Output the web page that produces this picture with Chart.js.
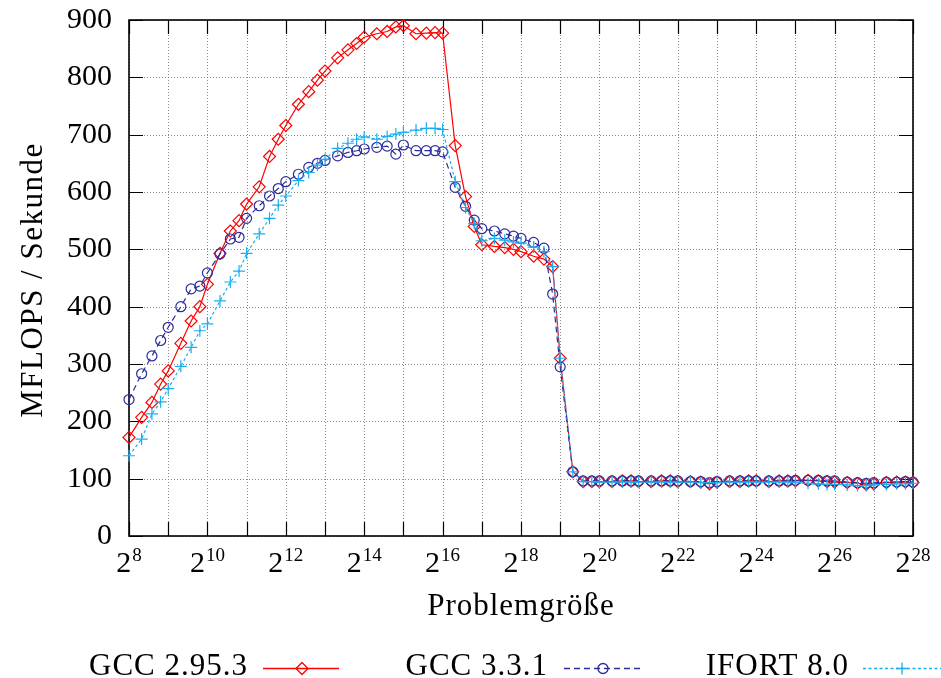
<!DOCTYPE html>
<html>
<head>
<meta charset="utf-8">
<script src="https://cdn.jsdelivr.net/npm/chart.js@4/dist/chart.umd.min.js"></script>
<style>
  html, body { margin: 0; padding: 0; background: #fff; }
  #wrap { width: 941px; height: 678px; position: relative; }
</style>
</head>
<body>
<div id="wrap"><canvas id="perfChart"></canvas></div>
<script>
// Problem sizes (4 per octave, 2^8 .. 2^28)
const sizes = [
    256, 320, 384, 448,
    512, 640, 768, 896,
    1024, 1280, 1536, 1792,
    2048, 2560, 3072, 3584,
    4096, 5120, 6144, 7168,
    8192, 10240, 12288, 14336,
    16384, 20480, 24576, 28672,
    32768, 40960, 49152, 57344,
    65536, 81920, 98304, 114688,
    131072, 163840, 196608, 229376,
    262144, 327680, 393216, 458752,
    524288, 655360, 786432, 917504,
    1048576, 1310720, 1572864, 1835008,
    2097152, 2621440, 3145728, 3670016,
    4194304, 5242880, 6291456, 7340032,
    8388608, 10485760, 12582912, 14680064,
    16777216, 20971520, 25165824, 29360128,
    33554432, 41943040, 50331648, 58720256,
    67108864, 83886080, 100663296, 117440512,
    134217728, 167772160, 201326592, 234881024,
    268435456
];

const gcc295 = [
    172, 207, 233, 265,
    288, 336, 375, 400,
    439, 493, 532, 550,
    579, 609, 662, 692,
    716, 753, 775, 795,
    811, 834, 848, 859,
    870, 876, 880, 888,
    890, 876, 877, 878,
    877, 681, 592, 540,
    508, 505, 503, 500,
    496, 488, 483, 470,
    310, 112, 95, 95,
    95, 95, 96, 96,
    95, 95, 96, 96,
    95, 95, 94, 91,
    94, 95, 95, 96,
    96, 95, 96, 96,
    96, 97, 96, 95,
    94, 93, 92, 90,
    91, 93, 94, 94,
    93
];

const gcc331 = [
    238, 283, 314, 341,
    364, 400, 431, 436,
    459, 492, 518, 521,
    554, 576, 593, 606,
    618, 631, 643, 650,
    655, 663, 669, 672,
    675, 678, 680, 666,
    682, 672, 672, 672,
    670, 608, 575, 551,
    536, 532, 527, 523,
    519, 512, 502, 422,
    295, 112, 96, 96,
    96, 96, 96, 96,
    96, 96, 96, 96,
    96, 95, 95, 93,
    95, 96, 96, 96,
    96, 96, 96, 96,
    97, 97, 97, 96,
    96, 94, 93, 92,
    93, 94, 94, 95,
    94
];

const ifort80 = [
    140, 169, 213, 234,
    257, 296, 329, 358,
    370, 410, 443, 462,
    493, 527, 554, 577,
    593, 620, 634, 647,
    657, 676, 685, 692,
    696, 692, 697, 701,
    704, 708, 711, 711,
    709, 618, 573, 545,
    515, 519, 516, 513,
    511, 504, 496, 470,
    310, 112, 95, 95,
    94, 94, 94, 94,
    94, 94, 94, 94,
    94, 94, 93, 93,
    93, 94, 94, 94,
    94, 94, 94, 94,
    93, 92, 91, 90,
    90, 89, 88, 88,
    89, 90, 91, 91,
    92
];

const seriesNames = ['GCC 2.95.3', 'GCC 3.3.1', 'IFORT 8.0'];
const xTickExp = [8, 9, 10, 11, 12, 13, 14, 15, 16, 17, 18, 19, 20, 21, 22, 23, 24, 25, 26, 27, 28];
const xLabelExp = [8, 10, 12, 14, 16, 18, 20, 22, 24, 26, 28];
const yTicks = [0, 100, 200, 300, 400, 500, 600, 700, 800, 900];
const xTitle = 'Problemgröße';
const yTitle = 'MFLOPS / Sekunde';

const FONT = '"Liberation Serif", "Times New Roman", serif';
const RED = '#ff0000', BLUE = '#2c2c9c', CYAN = '#1aaef0';

const toPoints = vals => sizes.map((s, i) => ({ x: s, y: vals[i] }));

function marker(ctx, style, x, y, r) {
    ctx.beginPath();
    if (style === 'rectRot') {
        ctx.moveTo(x - r, y); ctx.lineTo(x, y - r); ctx.lineTo(x + r, y); ctx.lineTo(x, y + r); ctx.closePath();
    } else if (style === 'circle') {
        ctx.arc(x, y, r, 0, Math.PI * 2);
    } else {
        ctx.moveTo(x - r, y); ctx.lineTo(x + r, y); ctx.moveTo(x, y - r); ctx.lineTo(x, y + r);
    }
    ctx.stroke();
}

const framePlugin = {
    id: 'gnuFrame',
    beforeDatasetsDraw(chart) {
        const { ctx, chartArea: a, scales: { x, y } } = chart;
        ctx.save();
        // dotted grid
        ctx.strokeStyle = '#8a8a8a';
        ctx.lineWidth = 1;
        ctx.setLineDash([1, 2]);
        xTickExp.forEach(e => {
            const px = Math.round(x.getPixelForValue(Math.pow(2, e))) + 0.5;
            ctx.beginPath(); ctx.moveTo(px, a.top); ctx.lineTo(px, a.bottom); ctx.stroke();
        });
        yTicks.forEach(v => {
            const py = Math.round(y.getPixelForValue(v)) + 0.5;
            ctx.beginPath(); ctx.moveTo(a.left, py); ctx.lineTo(a.right, py); ctx.stroke();
        });
        ctx.setLineDash([]);
        // inward tick marks
        ctx.strokeStyle = '#000';
        ctx.lineWidth = 1.2;
        const tl = 14;
        xTickExp.forEach(e => {
            const px = Math.round(x.getPixelForValue(Math.pow(2, e))) + 0.5;
            ctx.beginPath();
            ctx.moveTo(px, a.bottom); ctx.lineTo(px, a.bottom - tl);
            ctx.moveTo(px, a.top); ctx.lineTo(px, a.top + tl);
            ctx.stroke();
        });
        yTicks.forEach(v => {
            const py = Math.round(y.getPixelForValue(v)) + 0.5;
            ctx.beginPath();
            ctx.moveTo(a.left, py); ctx.lineTo(a.left + tl, py);
            ctx.moveTo(a.right, py); ctx.lineTo(a.right - tl, py);
            ctx.stroke();
        });
        // border
        ctx.lineWidth = 1.6;
        ctx.strokeRect(a.left, a.top, a.right - a.left, a.bottom - a.top);
        ctx.restore();
    },
    afterDraw(chart) {
        const { ctx, chartArea: a, scales: { x } } = chart;
        ctx.save();
        ctx.fillStyle = '#000';
        ctx.textBaseline = 'alphabetic';
        ctx.textAlign = 'left';

        // x tick labels 2^k
        xLabelExp.forEach(e => {
            const px = x.getPixelForValue(Math.pow(2, e));
            ctx.font = `30px ${FONT}`;
            const wBase = ctx.measureText('2').width;
            ctx.font = `19px ${FONT}`;
            const wExp = ctx.measureText(String(e)).width;
            const left = px - (wBase + wExp + 1) / 2;
            ctx.font = `30px ${FONT}`;
            ctx.fillText('2', left, 572);
            ctx.font = `19px ${FONT}`;
            ctx.fillText(String(e), left + wBase + 1, 561);
        });

        // axis titles (wider spacing to follow the reference's serif face)
        ctx.font = `31px ${FONT}`;
        ctx.textAlign = 'center';
        ctx.letterSpacing = '1px';
        ctx.fillText(xTitle, (a.left + a.right) / 2, 615);
        ctx.save();
        ctx.translate(42, (a.top + a.bottom) / 2 + 2);
        ctx.rotate(-Math.PI / 2);
        ctx.letterSpacing = '1.5px';
        ctx.fillText(yTitle, 0, 0);
        ctx.restore();

        // legend: text right-aligned, sample to the right
        const legendItems = [
            { textEnd: 248, x0: 263, x1: 339, color: RED, dash: [], style: 'rectRot', r: 6 },
            { textEnd: 548, x0: 564, x1: 640, color: BLUE, dash: [6, 4], style: 'circle', r: 5 },
            { textEnd: 849, x0: 863, x1: 941, color: CYAN, dash: [3, 2.5], style: 'cross', r: 6 }
        ];
        legendItems.forEach((it, i) => {
            ctx.fillStyle = '#000';
            ctx.textAlign = 'right';
            ctx.font = `31px ${FONT}`;
            ctx.letterSpacing = '1px';
            ctx.fillText(seriesNames[i], it.textEnd, 675);
            ctx.letterSpacing = '0px';
            ctx.strokeStyle = it.color;
            ctx.lineWidth = 1.3;
            ctx.setLineDash(it.dash);
            ctx.beginPath(); ctx.moveTo(it.x0, 668.5); ctx.lineTo(it.x1, 668.5); ctx.stroke();
            ctx.setLineDash([]);
            marker(ctx, it.style, (it.x0 + 39), 668.5, it.r);
        });
        ctx.restore();
    }
};

function makeDataset(label, vals, color, style, radius, dash, order) {
    return {
        label,
        data: toPoints(vals),
        borderColor: color,
        backgroundColor: 'transparent',
        borderWidth: 1.2,
        borderDash: dash,
        pointStyle: style,
        pointRadius: radius,
        pointBorderWidth: 1.2,
        pointBorderColor: color,
        pointBackgroundColor: 'rgba(0,0,0,0)',
        tension: 0,
        fill: false,
        clip: false,
        order
    };
}

new Chart(document.getElementById('perfChart'), {
    type: 'line',
    data: {
        datasets: [
            makeDataset(seriesNames[0], gcc295, RED, 'rectRot', 6, [], 3),
            makeDataset(seriesNames[1], gcc331, BLUE, 'circle', 5, [6, 4], 2),
            makeDataset(seriesNames[2], ifort80, CYAN, 'cross', 6, [3, 2.5], 1)
        ]
    },
    options: {
        responsive: true,
        maintainAspectRatio: false,
        animation: false,
        layout: { padding: { top: 20, right: 28, left: 0, bottom: 0 } },
        plugins: { legend: { display: false }, tooltip: { enabled: false } },
        scales: {
            x: {
                type: 'logarithmic',
                min: 256,
                max: 268435456,
                afterBuildTicks: scale => { scale.ticks = xTickExp.map(e => ({ value: Math.pow(2, e) })); },
                afterFit: scale => { scale.height = 142; scale.paddingLeft = 0; scale.paddingRight = 0; },
                ticks: { display: false },
                grid: { display: false },
                border: { display: false }
            },
            y: {
                min: 0,
                max: 900,
                afterBuildTicks: scale => { scale.ticks = yTicks.map(v => ({ value: v })); },
                afterFit: scale => { scale.width = 129; scale.paddingTop = 0; scale.paddingBottom = 0; },
                ticks: {
                    padding: 17,
                    color: '#000',
                    font: { family: FONT, size: 30 }
                },
                grid: { display: false, drawTicks: false },
                border: { display: false }
            }
        }
    },
    plugins: [framePlugin]
});
</script>
</body>
</html>
